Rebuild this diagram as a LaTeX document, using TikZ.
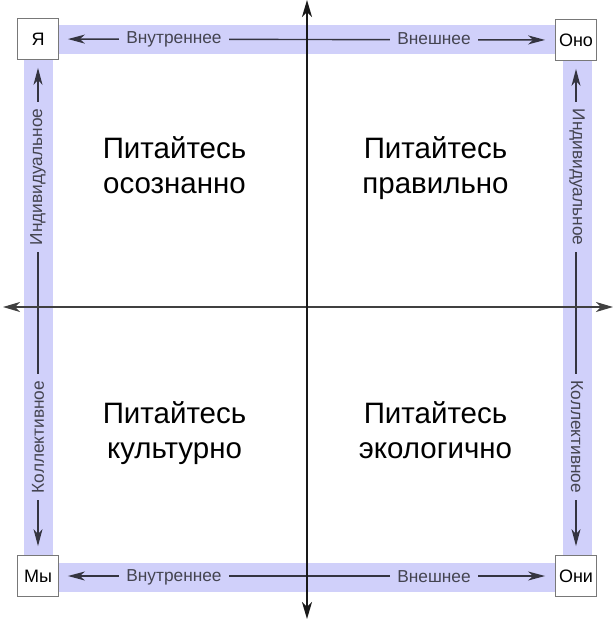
\documentclass[tikz,border=0pt]{standalone}
\usepackage{fontspec}
\setmainfont{Liberation Sans}
\usetikzlibrary{arrows.meta}
\definecolor{bandc}{RGB}{208,208,250}
\definecolor{labc}{RGB}{68,68,80}
\definecolor{linec}{RGB}{52,52,64}
\definecolor{boxc}{RGB}{120,120,120}
\tikzset{
  corner/.style={draw=boxc, fill=white, minimum size=41pt, inner sep=0pt, font=\fontsize{18}{20}\selectfont, line width=0.8pt},
  bandlabel/.style={fill=bandc, text=labc, inner xsep=7pt, inner ysep=2pt, font=\fontsize{17.3}{20}\selectfont},
  bandarrow/.style={draw=linec, line width=1.4pt, {Stealth[length=17pt,width=9pt,inset=5pt]}-{Stealth[length=17pt,width=9pt,inset=5pt]}},
  axisv/.style={draw=black!90, line width=1.8pt, {Stealth[length=17pt,width=10pt,inset=5pt]}-{Stealth[length=17pt,width=10pt,inset=5pt]}},
  axish/.style={draw=black!75, line width=1.3pt, {Stealth[length=17pt,width=10pt,inset=5pt]}-{Stealth[length=17pt,width=10pt,inset=5pt]}},
  quad/.style={anchor=base, inner sep=0pt, font=\fontsize{29.5}{34}\selectfont},
}
\begin{document}
\begin{tikzpicture}[x=1pt,y=-1pt]
\useasboundingbox (0,0) rectangle (616,619);
% bands
\fill[bandc] (38,24.5) rectangle (577,53.5);
\fill[bandc] (38,562.5) rectangle (577,591.5);
\fill[bandc] (23.5,39) rectangle (52.5,577);
\fill[bandc] (562.5,39) rectangle (591.5,577);
% corner boxes
\node[corner] (ya) at (38,39) {Я};
\node[corner] (ono) at (576,40) {Оно};
\node[corner] (my) at (38,576) {Мы};
\node[corner] (oni) at (576,576) {Они};
% band connectors
\draw[bandarrow, shorten <=9pt, shorten >=10pt] (ya) -- (ono);
\draw[bandarrow, shorten <=9pt, shorten >=10pt] (my) -- (oni);
\draw[bandarrow, shorten <=8pt, shorten >=9pt] (ya) -- (my);
\draw[bandarrow, shorten <=8pt, shorten >=9pt] (ono) -- (oni);
% band labels
\node[bandlabel] (tin) at (174,39) {Внутреннее};
\node[bandlabel] (tex) at (434,39) {Внешнее};
\node[bandlabel] (bin) at (174,577) {Внутреннее};
\node[bandlabel] (bex) at (434,577) {Внешнее};
\node[bandlabel, rotate=90] (lind) at (38,177) {Индивидуальное};
\node[bandlabel, rotate=90] (lcol) at (38,437) {Коллективное};
\node[bandlabel, rotate=-90] (rind) at (577,177) {Индивидуальное};
\node[bandlabel, rotate=-90] (rcol) at (577,437) {Коллективное};
% axes
\coordinate (vt) at (307,0);
\coordinate (vb) at (307,619);
\coordinate (hl) at (3,307);
\coordinate (hr) at (613,307);
\draw[axish] (hl) -- (hr);
\draw[axisv] (vt) -- (vb);
% quadrant texts
\node[quad] (q1a) at (174.5,158) {Питайтесь};
\node[quad] (q1b) at (174.5,193) {осознанно};
\node[quad] (q2a) at (435.5,158) {Питайтесь};
\node[quad] (q2b) at (435.5,193) {правильно};
\node[quad] (q3a) at (174.5,423) {Питайтесь};
\node[quad] (q3b) at (174.5,458) {культурно};
\node[quad] (q4a) at (435.5,423) {Питайтесь};
\node[quad] (q4b) at (435.5,458) {экологично};
\end{tikzpicture}
\end{document}
